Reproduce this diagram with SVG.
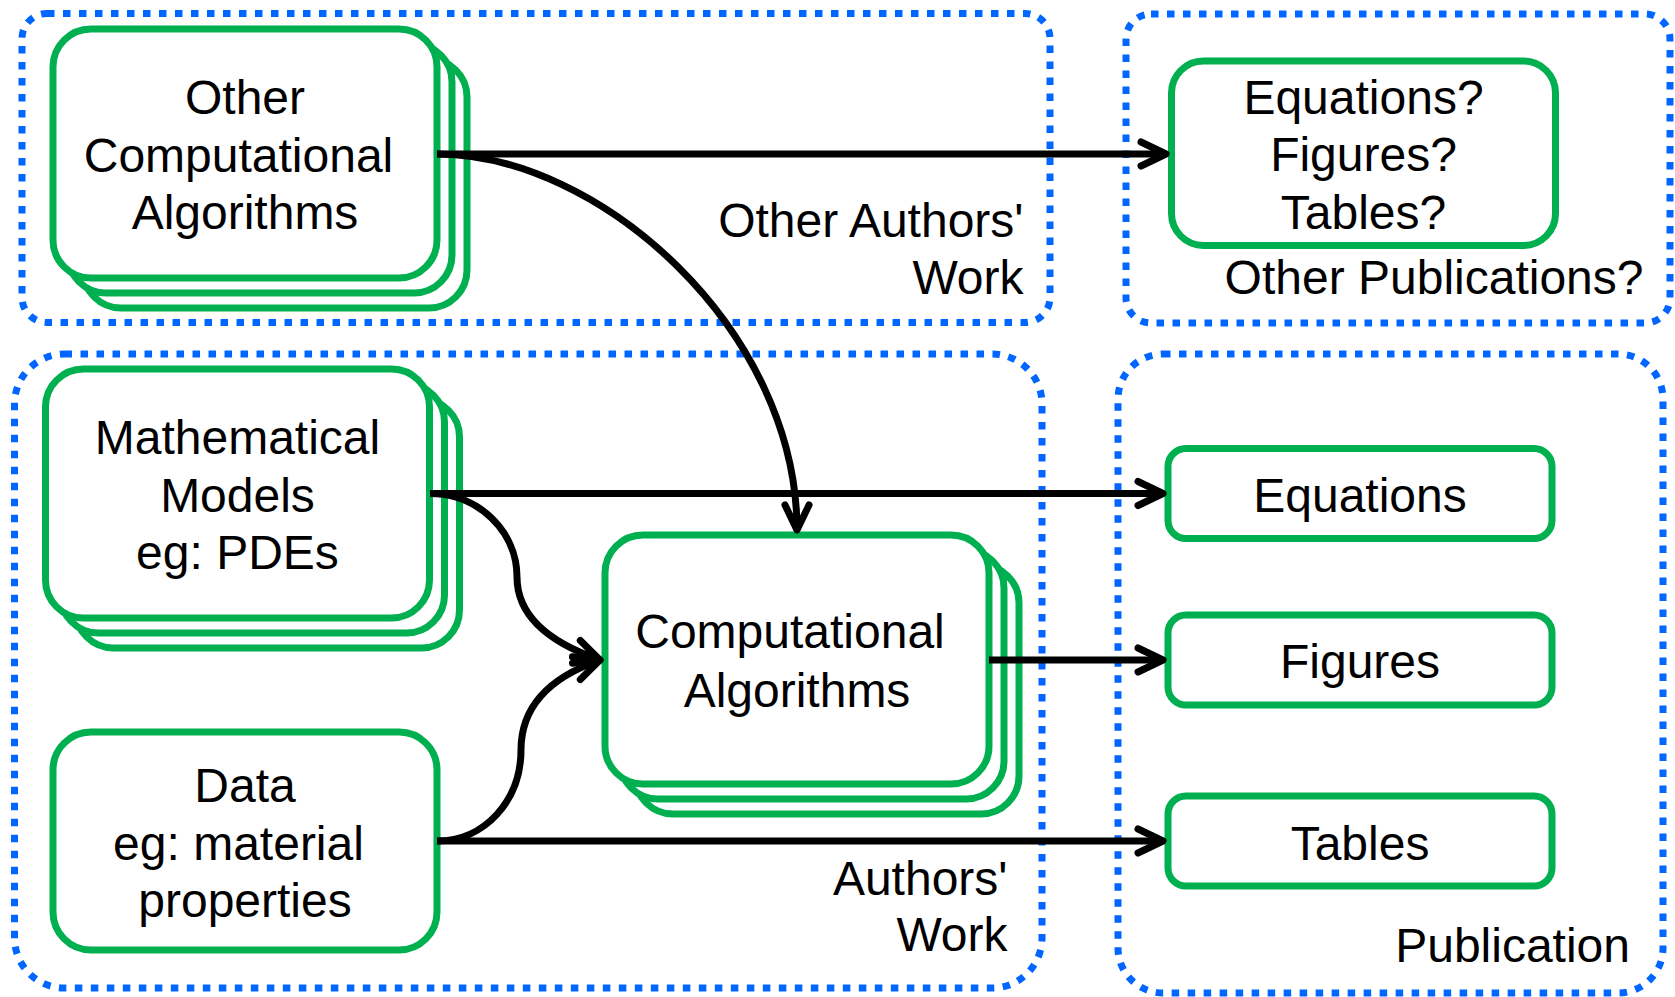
<svg xmlns="http://www.w3.org/2000/svg" width="1675" height="997" viewBox="0 0 1675 997">
  <defs>
    <style>
      .zone{fill:none;stroke:#0066FF;stroke-width:7;stroke-dasharray:7.5 8.5}
      .box{fill:#fff;stroke:#00B050;stroke-width:7}
      .t{font-family:"Liberation Sans",Arial,sans-serif;font-size:48px;fill:#000;text-anchor:middle}
      .r{text-anchor:end}
      .edge{fill:none;stroke:#000;stroke-width:7;marker-end:url(#open)}
    </style>
    <marker id="open" markerUnits="userSpaceOnUse" markerWidth="44" markerHeight="44" viewBox="0 0 44 44" refX="36" refY="22" orient="auto">
      <path d="M11,10 L36,22 L11,34" fill="none" stroke="#000" stroke-width="7" stroke-linecap="round" stroke-linejoin="round"/>
    </marker>
  </defs>
  <rect width="1675" height="997" fill="#fff"/>

  <!-- dotted grouping zones -->
  <g id="zone-other-authors">
    <rect class="zone" x="22" y="13.5" width="1028" height="309" rx="25"/>
    <text class="t r"><tspan x="1023.5" y="237">Other Authors'</tspan><tspan x="1023.5" y="294">Work</tspan></text>
  </g>
  <g id="zone-other-publications">
    <rect class="zone" x="1126" y="14" width="544" height="309" rx="25"/>
    <text class="t r" x="1643.5" y="293.5">Other Publications?</text>
  </g>
  <g id="zone-authors">
    <rect class="zone" x="14.5" y="354" width="1027.5" height="634" rx="50"/>
    <text class="t r"><tspan x="1007.5" y="895">Authors'</tspan><tspan x="1007.5" y="951">Work</tspan></text>
  </g>
  <g id="zone-publication">
    <rect class="zone" x="1118" y="354" width="545" height="639" rx="45"/>
    <text class="t r" x="1630" y="961.5">Publication</text>
  </g>

  <!-- nodes -->
  <g id="other-algorithms">
    <rect class="box" x="83" y="59" width="384" height="249" rx="38"/>
    <rect class="box" x="68" y="44" width="384" height="249" rx="38"/>
    <rect class="box" x="53" y="29" width="384" height="249" rx="38"/>
    <text class="t"><tspan x="245" y="114">Other</tspan><tspan x="238.5" y="171.5">Computational</tspan><tspan x="245" y="229">Algorithms</tspan></text>
  </g>
  <g id="other-outputs">
    <rect class="box" x="1171.5" y="61" width="384" height="184.5" rx="32"/>
    <text class="t"><tspan x="1363.5" y="113.5">Equations?</tspan><tspan x="1363.5" y="171">Figures?</tspan><tspan x="1363.5" y="228.5">Tables?</tspan></text>
  </g>
  <g id="math-models">
    <rect class="box" x="75.5" y="399" width="384" height="249" rx="38"/>
    <rect class="box" x="60.5" y="384" width="384" height="249" rx="38"/>
    <rect class="box" x="45.5" y="369" width="384" height="249" rx="38"/>
    <text class="t"><tspan x="237.5" y="453.5">Mathematical</tspan><tspan x="237.5" y="511.5">Models</tspan><tspan x="237.5" y="568.5">eg: PDEs</tspan></text>
  </g>
  <g id="data">
    <rect class="box" x="53" y="732" width="384" height="218" rx="38"/>
    <text class="t"><tspan x="245" y="802">Data</tspan><tspan x="238.5" y="859.5">eg: material</tspan><tspan x="245" y="917">properties</tspan></text>
  </g>
  <g id="algorithms">
    <rect class="box" x="635" y="565" width="384" height="249" rx="38"/>
    <rect class="box" x="620" y="550" width="384" height="249" rx="38"/>
    <rect class="box" x="605" y="535" width="384" height="249" rx="38"/>
    <text class="t"><tspan x="790" y="648">Computational</tspan><tspan x="797" y="706.5">Algorithms</tspan></text>
  </g>
  <g id="equations">
    <rect class="box" x="1168" y="448.5" width="384" height="90" rx="18"/>
    <text class="t" x="1360" y="511.5">Equations</text>
  </g>
  <g id="figures">
    <rect class="box" x="1168" y="615" width="384" height="90" rx="18"/>
    <text class="t" x="1360" y="678">Figures</text>
  </g>
  <g id="tables">
    <rect class="box" x="1168" y="796" width="384" height="90" rx="18"/>
    <text class="t" x="1360" y="859.5">Tables</text>
  </g>

  <!-- connectors -->
  <g id="connectors">
    <path class="edge" d="M437,154 L1166,154"/>
    <path class="edge" d="M437,154 C600,154 797,330 797,530"/>
    <path class="edge" d="M430,493.5 L1163,493.5"/>
    <path class="edge" d="M430,493.5 C478,493.5 517,531 517,577 C517,615 548,642 600,660"/>
    <path class="edge" d="M437,841 C485,841 521,800 521,750 C521,708 548,678 600,660"/>
    <path class="edge" d="M989,660 L1163,660"/>
    <path class="edge" d="M437,841 L1163,841"/>
  </g>
</svg>
